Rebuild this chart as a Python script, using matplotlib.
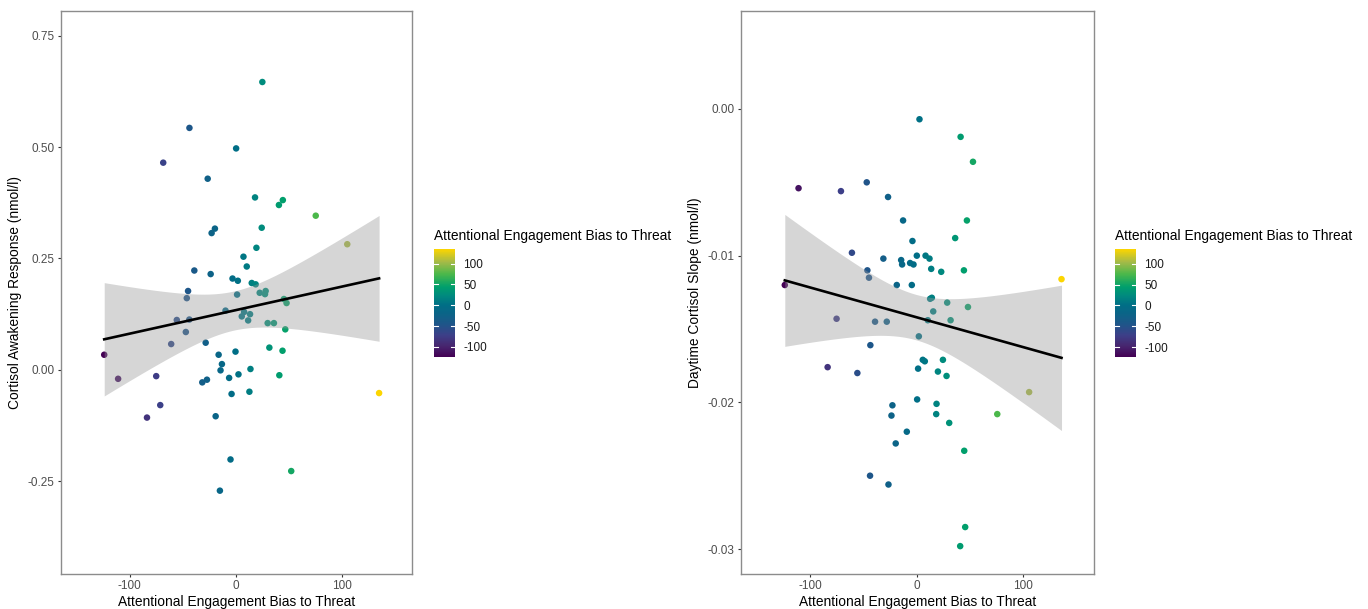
import numpy as np
import matplotlib.pyplot as plt
from matplotlib.colors import Normalize, LinearSegmentedColormap

plt.rcParams['font.family'] = ['Liberation Sans', 'DejaVu Sans']
plt.rcParams['axes.unicode_minus'] = False

# left panel: bias vs cortisol awakening response
car_bias = [25, -43.7, 0.3, -68.4, -26.5, 18.1, 44.3, 40.6, 75.3, 105, -19.7, -22.8, 24.4,
            19.4, 7.2, 10.3, -39.1, -23.7, -3.1, 1.9, 15, 18.7, -45, 1.2, 22.5, 28.1, 27.5,
            -46.2, 45.3, 47.8, -9.7, 7.8, 5.6, 13.4, 11.6, -55.6, -43.8, 30, 35.9, -47.1,
            46.6, -60.9, -28.4, -124, 31.6, 44, -0.3, -16.2, -13.1, -14.4, 13.8, 2.5, -110.9,
            -75, -6.3, -27.2, -31.6, 41, -4, 12.8, 135, -71.2, -83.7, -19, -5, 52.2, -15]
car = [0.646, 0.543, 0.497, 0.465, 0.429, 0.387, 0.381, 0.370, 0.346, 0.282, 0.317, 0.307, 0.319,
       0.274, 0.254, 0.232, 0.223, 0.215, 0.205, 0.200, 0.195, 0.192, 0.177, 0.169, 0.173, 0.177, 0.170,
       0.161, 0.159, 0.150, 0.133, 0.130, 0.120, 0.125, 0.111, 0.112, 0.113, 0.105, 0.105, 0.085,
       0.091, 0.058, 0.061, 0.034, 0.050, 0.043, 0.041, 0.034, 0.013, -0.001, 0.002, -0.010, -0.020,
       -0.014, -0.018, -0.022, -0.028, -0.012, -0.054, -0.049, -0.052, -0.079, -0.107, -0.104, -0.201, -0.227, -0.271]

# right panel: bias vs daytime cortisol slope
dcs_bias = [2.5, 41.1, 52.7, -47, -111, -71.2, -27, -12.9, 47, 36, -4.1, -60.9, -31.4, -14.7,
            0, 8.2, 11.9, -13.8, -6.3, -3.1, 13.5, 22.9, 44.2, -46.4, -44.9, 135.8, -18.8, -4.7,
            -123.9, 12.5, 14.1, 28.5, 48, 15.4, -75.3, -39.2, -28.2, 10.3, 31.7, 1.9, -43.6, 5.6,
            7.5, 24.5, -83.7, -55.8, 1.2, 19.8, 27.9, 105.4, 0.3, 18.5, -22.9, 18.2, -23.8, 75.5,
            30.4, -9.4, -19.8, 44.5, -43.9, -26.6, 45.4, 40.7]
dcs = [-0.0007, -0.0019, -0.0036, -0.0050, -0.0054, -0.0056, -0.0060, -0.0076, -0.0076, -0.0088,
       -0.0090, -0.0098, -0.0102, -0.0103, -0.0100, -0.0100, -0.0102, -0.0106, -0.0105, -0.0106,
       -0.0109, -0.0111, -0.0110, -0.0110, -0.0115, -0.0116, -0.0120, -0.0120, -0.0120, -0.01294,
       -0.01287, -0.0132, -0.0135, -0.0138, -0.0143, -0.0145, -0.0145, -0.0144, -0.0144, -0.0155,
       -0.0161, -0.0171, -0.0172, -0.0171, -0.0176, -0.0180, -0.0177, -0.0179, -0.0182, -0.0193,
       -0.0198, -0.0201, -0.0202, -0.0208, -0.0209, -0.0208, -0.0214, -0.0220, -0.0228, -0.0233,
       -0.0250, -0.0256, -0.0285, -0.0298]

xlabel = 'Attentional Engagement Bias to Threat'
cbar_title = 'Attentional Engagement Bias to Threat'
t_crit = 2.0  # approx qt(0.975, n-2)

# viridis-like palette as it looks in the picture
pal = LinearSegmentedColormap.from_list('vir', [
    (0.0, '#440154'), (0.1, '#47256f'), (0.2, '#3d3f88'), (0.3, '#1f5589'),
    (0.4, '#0b6487'), (0.48, '#006e86'), (0.57, '#008a7e'), (0.65, '#009f6c'),
    (0.77, '#4cb84a'), (0.88, '#a4ba48'), (1.0, '#fcd500')])


def lm_band(x, y):
    x = np.asarray(x, float)
    y = np.asarray(y, float)
    n = len(x)
    b, a = np.polyfit(x, y, 1)
    xs = np.linspace(x.min(), x.max(), 100)
    yhat = a + b * xs
    resid = y - (a + b * x)
    s = np.sqrt(np.sum(resid ** 2) / (n - 2))
    sxx = np.sum((x - x.mean()) ** 2)
    se = s * np.sqrt(1 / n + (xs - x.mean()) ** 2 / sxx)
    return xs, yhat, yhat - t_crit * se, yhat + t_crit * se


def panel(ax, cax, x, y, ylabel, ylim, yticks, fmt):
    x = np.asarray(x, float)
    norm = Normalize(vmin=x.min(), vmax=x.max())
    xs, yhat, lo, hi = lm_band(x, y)
    sc = ax.scatter(x, y, c=x, cmap=pal, norm=norm, s=22, lw=0, zorder=1)
    ax.fill_between(xs, lo, hi, color='#999999', alpha=0.4, lw=0, zorder=2)
    ax.plot(xs, yhat, color='black', lw=1.9, zorder=3)
    ax.set_xlim(-165, 166)
    ax.set_ylim(*ylim)
    ax.set_xticks([-100, 0, 100])
    ax.set_yticks(yticks)
    ax.set_yticklabels([fmt % v for v in yticks])
    ax.set_xlabel(xlabel, fontsize=9.9, labelpad=2)
    ax.set_ylabel(ylabel, fontsize=9.9, labelpad=4)
    ax.tick_params(colors='#333333', labelcolor='#4d4d4d', labelsize=8.5, length=2.5, width=0.8, pad=2)
    for sp in ax.spines.values():
        sp.set_color('#8c8c8c')
        sp.set_linewidth(1)

    cb = plt.colorbar(sc, cax=cax)
    cb.set_ticks([-100, -50, 0, 50, 100])
    cb.outline.set_visible(False)
    cax.tick_params(length=0, labelsize=8.5, pad=6, labelcolor='#1a1a1a')
    for v in [-100, -50, 0, 50, 100]:
        cax.plot([0, 0.2], [v, v], color='white', lw=0.8, transform=cax.get_yaxis_transform())
        cax.plot([0.8, 1], [v, v], color='white', lw=0.8, transform=cax.get_yaxis_transform())
    cax.text(0, 1.12, cbar_title, transform=cax.transAxes, fontsize=9.9, ha='left', va='center')


W, H = 1368, 609
fig = plt.figure(figsize=(13.68, 6.09), dpi=100)
ax1 = fig.add_axes([60.7 / W, 1 - 574 / H, 351.3 / W, 563.3 / H])
cax1 = fig.add_axes([434 / W, 1 - 357 / H, 21 / W, 108 / H])
ax2 = fig.add_axes([741 / W, 1 - 574 / H, 352.7 / W, 563.3 / H])
cax2 = fig.add_axes([1115 / W, 1 - 357 / H, 21 / W, 108 / H])

panel(ax1, cax1, car_bias, car, 'Cortisol Awakening Response (nmol/l)',
      (-0.458, 0.806), [-0.25, 0.0, 0.25, 0.50, 0.75], '%.2f')
panel(ax2, cax2, dcs_bias, dcs, 'Daytime Cortisol Slope (nmol/l)',
      (-0.0317, 0.0067), [-0.03, -0.02, -0.01, 0.0], '%.2f')

fig.savefig('out.png', dpi=100)
